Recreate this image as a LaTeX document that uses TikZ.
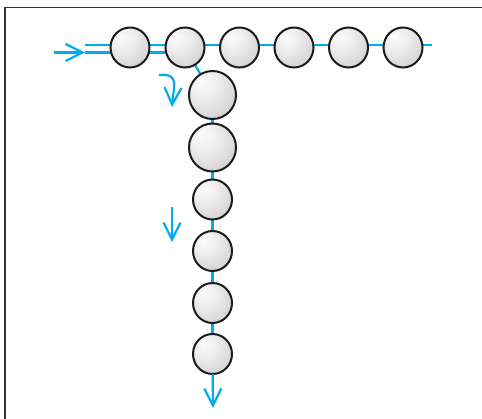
\documentclass[tikz,border=0pt]{standalone}
\usepackage{tikz}
\usetikzlibrary{arrows.meta, positioning, shapes.geometric, backgrounds}
\definecolor{cyanline}{RGB}{0,172,236}
\definecolor{rim}{RGB}{28,28,28}
\pgfdeclareradialshading{pearl}{\pgfpoint{-12bp}{14bp}}{color(0bp)=(gray!3); color(14bp)=(gray!13); color(34bp)=(gray!34); color(52bp)=(gray!54); color(70bp)=(gray!62)}

\begin{document}
\begin{tikzpicture}[
  x=1pt, y=-1pt,
  bead/.style={ellipse, draw=rim, line width=2pt, shading=pearl, inner sep=0pt,
    outer sep=0pt, minimum width=39pt, minimum height=40pt},
  bigbead/.style={bead, minimum width=47pt, minimum height=48pt},
  pipe/.style={draw=cyanline, line width=2.2pt},
  ptr/.style={pipe, -{Straight Barb[length=17pt, width=17pt]}},
  node distance=16pt
]
\useasboundingbox (0,0) rectangle (482,419);

% Frame
\draw[line width=1.4pt, black!80] (5,419) |- (482,7.5);

% Top row
\node[bead] (h1) at (130,47.5) {};
\node[bead, right=16pt of h1] (h2) {};
\node[bead, right=15.5pt of h2] (h3) {};
\node[bead, right=15.5pt of h3] (h4) {};
\node[bead, right=15.5pt of h4] (h5) {};
\node[bead, right=15.5pt of h5] (h6) {};

% Column
\node[bigbead] (v1) at (212.5,95) {};
\node[bigbead, below=4.5pt of v1] (v2) {};
\node[bead, below=8pt of v2] (v3) {};
\node[bead, below=11.5pt of v3] (v4) {};
\node[bead, below=12pt of v4] (v5) {};
\node[bead, below=11pt of v5] (v6) {};

% Ends
\coordinate (in) at (54,52.5);
\coordinate (feed) at (85,52.5);
\coordinate (feedtop) at (85,45);
\coordinate (tail) at (432,45);
\coordinate (out) at (213,408);

% Lines behind the beads
\begin{scope}[on background layer]
\draw[pipe] (feedtop) -- (tail);
\draw[pipe] (feed) -- (feed -| h2);
\draw[pipe] (h2.center) -- (v1.center);
\draw[pipe] (v1) -- (v6);
\end{scope}
\draw[ptr] (in) -- (feed);
\draw[ptr] (v6) -- (out);

% Direction marks
\coordinate (turnA) at (159,75);
\coordinate (turnB) at (172,107);
\coordinate (downA) at (172,207);
\coordinate (downB) at (172,242);
\draw[ptr] (turnA) .. controls (181,73) and (173,88) .. (turnB);
\draw[ptr] (downA) -- (downB);

\end{tikzpicture}
\end{document}
